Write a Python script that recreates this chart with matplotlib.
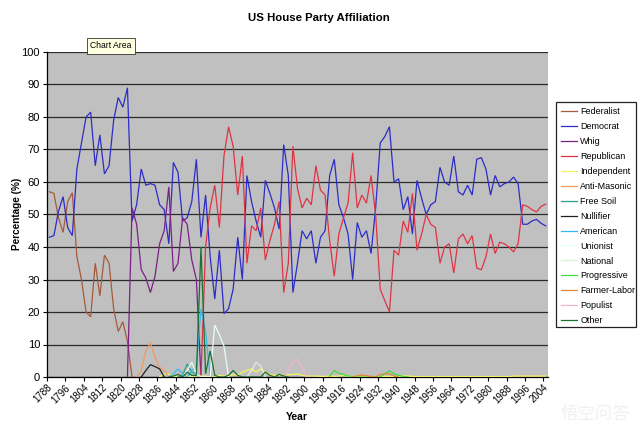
import numpy as np
import matplotlib
matplotlib.use('Agg')
import matplotlib.pyplot as plt
from matplotlib.patches import Rectangle

plt.rcParams['font.family'] = ['Liberation Sans', 'DejaVu Sans']

first_year = 1788
n_categories = 109
tick_labels = [str(y) for y in range(1788, 2005, 8)]

# (value lists; each series begins at its *_start category)
federalist_start = 0
federalist = [57,56.5,49,44.5,54,56.7,37,30,20,18.5,35,25,37.5,35,21,14,17,11,0]
democrat_start = 0
democrat = [43,43.5,51,55.5,46,43.5,64,72,80,81.5,
            65,74.5,62.5,65,79,86,83,89,48,53,
            64,59,59.5,59,53,51.5,41,66,63,48,
            49,54,67,43,56,37,24,39,19.5,21,
            27,43,30,62,54,48,43,60.5,56.5,52,
            45.5,71.5,62,26,35,45,42.5,45,35,43,
            45,62,67,53,49,44,30,47.5,43,45,
            38,52,72,74,77,60,61,51.5,55.5,44,
            60.5,55,50,53,54,64.5,60,59,68,57,
            56,59,56,67,67.5,64,56,62,58.5,59.5,
            60,61.5,59.5,47,47,48,48.5,47.3,46.5]
whig_start = 17
whig = [0,52,47,33,30.5,26,31,41,45,58.5,32.5,35,49,47,36,30,0]
republican_start = 33
republican = [0,40,52,59,46,68,77,71,56,68,35,46.5,45,52,36,42,47,54,26,35,
              71,58,52,55,53,65,57.5,56,42,31,44,49,53.5,69,52,56,53.5,62,50,27,
              23.5,20,39,37.5,48,44.5,56.5,39,44,50,47,46,35,40,41,32,42.5,44,41,43.5,
              33.5,33,37,44,38,41.5,41,40,38.5,41,53,52.5,51.5,50.8,52.5,53.2]
independent_start = 24
independent = [0,1,0.8,0.3,0.2,0.5,0.3,0.2,0.4,0.3,0.2,0,0,0.5,0.3,0.3,0.8,0.5,1.5,2,
               2.5,1.5,2.5,1.2,0.8,0.5,0.5,0.5,0.7,0.8,1,0.5,0.3,0.3,0.3,0.2,0.2,0.3,0.2,0.3,
               0.4,0.3,0.2,0.2,0.2,0.1,0.1,0.1,0.1,0.2,0.1,0.1,0.1,0.4,0.3,0.2,0.1,0.1,0.1,0.1,
               0.1,0.1,0.1,0.1,0.1,0.1,0.1,0.1,0.1,0.1,0.1,0.1,0.1,0.1,0.1,0.1,0.1,0.3,0.3,0.3,0.3,0.3,0.3,0.3,0.3]
anti_masonic_start = 19
anti_masonic = [0,2,8,10.5,6,3,2,0]
free_soil_start = 28
free_soil = [0,0.5,4,1.5,1,0]
nullifier_start = 20
nullifier = [0,2,3.8,3.2,2.5,0]
american_start = 26
american = [0,1,2.5,1,0,2,3,21,14,0]
unionist_start = 29
unionist = [0,2,4.5,1,0,0,0,16,13,9.5,0]
national_start = 43
national = [0,2,4.5,3.5,0]
progressive_start = 61
progressive = [0.3,2,1.2,0.8,0.3,0.2,0,0,0,0,0,0,1,1.9,1,0.5,0.2,0]
farmer_labor_start = 66
farmer_labor = [0,0.4,0.6,0.4,0.2,0,0.8,1,1,0.3,0]
populist_start = 51
populist = [0,2,4.5,5.5,3,0]
other_start = 26
other = [0,0.3,0.8,0,1.5,0.5,0.5,40,1,8,0.5,0,0,0.5,2,0.5,0,0,0,0,0,1.5,0.5,0,0.8,0.3,0]

series = [
    ('Federalist', federalist_start, federalist, '#a55a3a'),
    ('Democrat', democrat_start, democrat, '#2c2cc8'),
    ('Whig', whig_start, whig, '#7c1f86'),
    ('Republican', republican_start, republican, '#e03444'),
    ('Independent', independent_start, independent, '#f4f460'),
    ('Anti-Masonic', anti_masonic_start, anti_masonic, '#f09a60'),
    ('Free Soil', free_soil_start, free_soil, '#2c9c90'),
    ('Nullifier', nullifier_start, nullifier, '#202020'),
    ('American', american_start, american, '#38b8f0'),
    ('Unionist', unionist_start, unionist, '#e4fff4'),
    ('National', national_start, national, '#dcf0dc'),
    ('Progressive', progressive_start, progressive, '#40dc40'),
    ('Farmer-Labor', farmer_labor_start, farmer_labor, '#e08838'),
    ('Populist', populist_start, populist, '#f4b4cc'),
    ('Other', other_start, other, '#1c7030'),
]

W, H = 640, 434
fig = plt.figure(figsize=(W/100, H/100), dpi=100, facecolor='white')
ax = fig.add_axes([47/W, 1-377/H, (548-47)/W, (377-52)/H], facecolor='#c0c0c0')

for name, start, vals, col in series:
    x = np.arange(start, start+len(vals)) + 0.5
    ax.plot(x, vals, color=col, lw=0.9, label=name, zorder=3, solid_joinstyle='miter')

ax.set_xlim(0, n_categories)
ax.set_ylim(0, 100)
ax.set_yticks(range(0, 101, 10))
ax.yaxis.grid(True, color='#2a2a2a', lw=0.9, zorder=1)
ax.set_axisbelow(True)
ax.set_xticks(np.arange(0, 4*len(tick_labels), 4))
ax.set_xticklabels(tick_labels, rotation=45, ha='right', rotation_mode='anchor', fontsize=7)
ax.tick_params(axis='y', labelsize=8, length=3, width=0.8, pad=2)
ax.tick_params(axis='x', length=3, width=0.8, pad=1, direction='out')
for s in ('top', 'right'):
    ax.spines[s].set_visible(False)
for s in ('left', 'bottom'):
    ax.spines[s].set_linewidth(0.9)

fig.text(319/W, 1-18/H, 'US House Party Affiliation', ha='center', va='center', fontsize=8.2, fontweight='bold')
fig.text(17/W, 1-214/H, 'Percentage (%)', rotation=90, ha='center', va='center', fontsize=7.2, fontweight='bold')
fig.text(297/W, 1-417/H, 'Year', ha='center', va='center', fontsize=7.5, fontweight='bold')
fig.text(111/W, 1-46/H, 'Chart Area', ha='center', va='center', fontsize=6.2,
         bbox=dict(boxstyle='square,pad=0.35', fc='#ffffe1', ec='#333333', lw=0.6), zorder=10)
fig.text(595/W, 1-414/H, '悟空问答', ha='center', va='center', fontsize=12.5, color='#f0f0f0',
         family=['Noto Sans CJK SC', 'DejaVu Sans'])

fig.add_artist(Rectangle((556/W, 1-327/H), 80/W, 225/H, transform=fig.transFigure,
                         fc='white', ec='#222222', lw=0.9))
leg = fig.legend(loc='upper left', bbox_to_anchor=(556/W, 1-102/H), bbox_transform=fig.transFigure,
                 fontsize=6.5, frameon=False, borderpad=0.0, labelspacing=0.655,
                 handlelength=1.77, handletextpad=0.33, borderaxespad=0.6)

fig.savefig('out.png', dpi=100)
